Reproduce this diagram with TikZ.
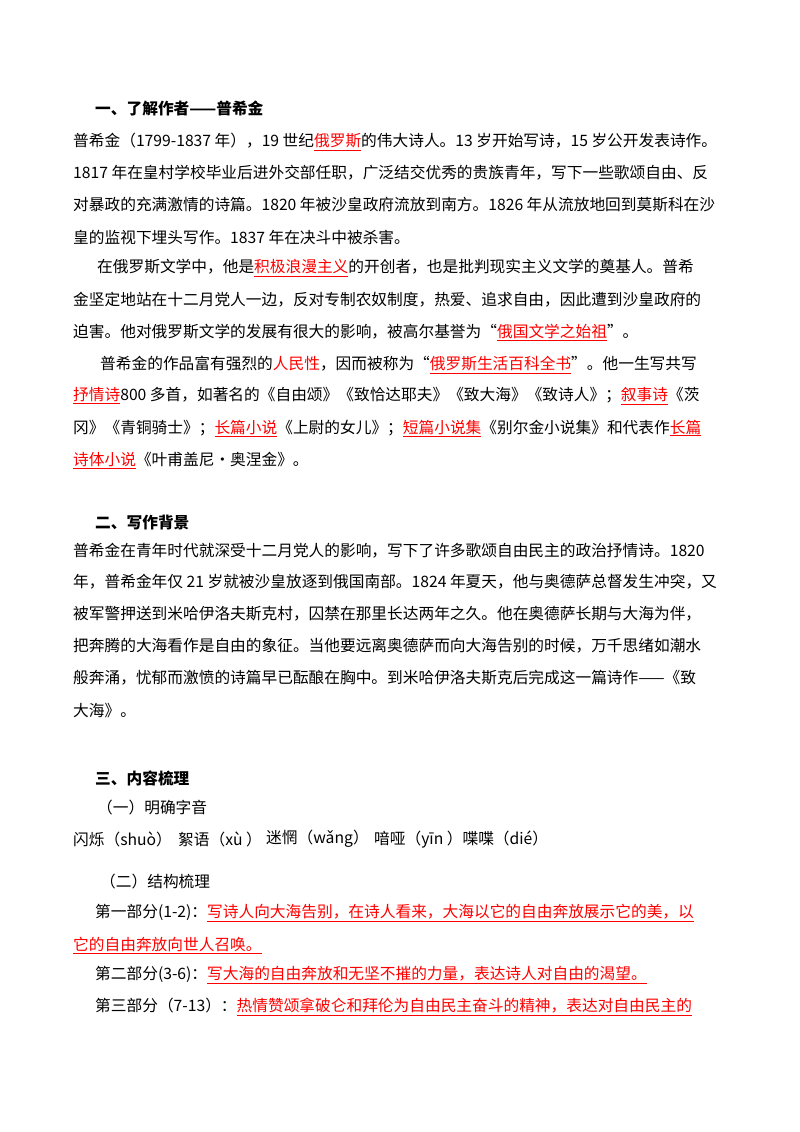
\documentclass[tikz,border=0pt]{standalone}
\usepackage{fontspec}
\setmainfont{Noto Sans CJK SC}
\newcommand\ru[1]{{\color{red}\underline{#1}}}
\newcommand\rd[1]{{\color{red}#1}}
\begin{document}
\begin{tikzpicture}[x=1pt,y=-1pt,
  ln/.style={anchor=west,inner sep=0pt,font=\fontsize{15.7}{18}\selectfont},
  hd/.style={ln,font=\fontsize{15.7}{18}\selectfont\bfseries}]
\useasboundingbox[fill=white] (0,0) rectangle (800,1132);
\node[hd] (h1) at (95,108) {一、了解作者——普希金};
\node[ln] (a1) at (73,142) {普希金（1799-1837 年），19 世纪\ru{俄罗斯}的伟大诗人。13 岁开始写诗，15 岁公开发表诗作。};
\node[ln] (a2) at (73,173) {1817 年在皇村学校毕业后进外交部任职，广泛结交优秀的贵族青年，写下一些歌颂自由、反};
\node[ln] (a3) at (73,205) {对暴政的充满激情的诗篇。1820 年被沙皇政府流放到南方。1826 年从流放地回到莫斯科在沙};
\node[ln] (a4) at (73,237) {皇的监视下埋头写作。1837 年在决斗中被杀害。};
\node[ln] (a5) at (97,268) {在俄罗斯文学中，他是\ru{积极浪漫主义}的开创者，也是批判现实主义文学的奠基人。普希};
\node[ln] (a6) at (73,300) {金坚定地站在十二月党人一边，反对专制农奴制度，热爱、追求自由，因此遭到沙皇政府的};
\node[ln] (a7) at (73,332) {迫害。他对俄罗斯文学的发展有很大的影响，被高尔基誉为“\ru{俄国文学之始祖}”。};
\node[ln] (a8) at (100,365) {普希金的作品富有强烈的\rd{人民性}，因而被称为“\ru{俄罗斯生活百科全书}”。他一生写共写};
\node[ln] (a9) at (73,396) {\ru{抒情诗}800 多首，如著名的《自由颂》《致恰达耶夫》《致大海》《致诗人》；\ru{叙事诗}《茨};
\node[ln] (a10) at (73,428) {冈》《青铜骑士》；\ru{长篇小说}《上尉的女儿》；\ru{短篇小说集}《别尔金小说集》和代表作\ru{长篇}};
\node[ln] (a11) at (73,460) {\ru{诗体小说}《叶甫盖尼·奥涅金》。};
\node[hd] (h2) at (95,523) {二、写作背景};
\node[ln] (b1) at (73,551) {普希金在青年时代就深受十二月党人的影响，写下了许多歌颂自由民主的政治抒情诗。1820};
\node[ln] (b2) at (73,582) {年，普希金年仅 21 岁就被沙皇放逐到俄国南部。1824 年夏天，他与奥德萨总督发生冲突，又};
\node[ln] (b3) at (73,614) {被军警押送到米哈伊洛夫斯克村，囚禁在那里长达两年之久。他在奥德萨长期与大海为伴，};
\node[ln] (b4) at (73,646) {把奔腾的大海看作是自由的象征。当他要远离奥德萨而向大海告别的时候，万千思绪如潮水};
\node[ln] (b5) at (73,678) {般奔涌，忧郁而激愤的诗篇早已酝酿在胸中。到米哈伊洛夫斯克后完成这一篇诗作——《致};
\node[ln] (b6) at (73,711) {大海》。};
\node[hd] (h3) at (95,778) {三、内容梳理};
\node[ln] (c1) at (97,808) {（一）明确字音};
\node[ln] (p1) at (73,839) {闪烁（shuò）};
\node[ln] (p2) at (178,839) {絮语（xù ）};
\node[ln] (p3) at (266,839) {迷惘（wǎng）};
\node[ln] (p4) at (374,839) {喑哑（yīn ）喋喋（dié）};
\node[ln] (c2) at (100,882) {（二）结构梳理};
\node[ln] (d1) at (95,913) {第一部分(1-2)：\ru{写诗人向大海告别，在诗人看来，大海以它的自由奔放展示它的美，以}};
\node[ln] (d2) at (73,945) {\ru{它的自由奔放向世人召唤。}};
\node[ln] (d3) at (95,975) {第二部分(3-6)：\ru{写大海的自由奔放和无坚不摧的力量，表达诗人对自由的渴望。}};
\node[ln] (d4) at (95,1007) {第三部分（7-13）：\ru{热情赞颂拿破仑和拜伦为自由民主奋斗的精神，表达对自由民主的}};
\end{tikzpicture}
\end{document}
